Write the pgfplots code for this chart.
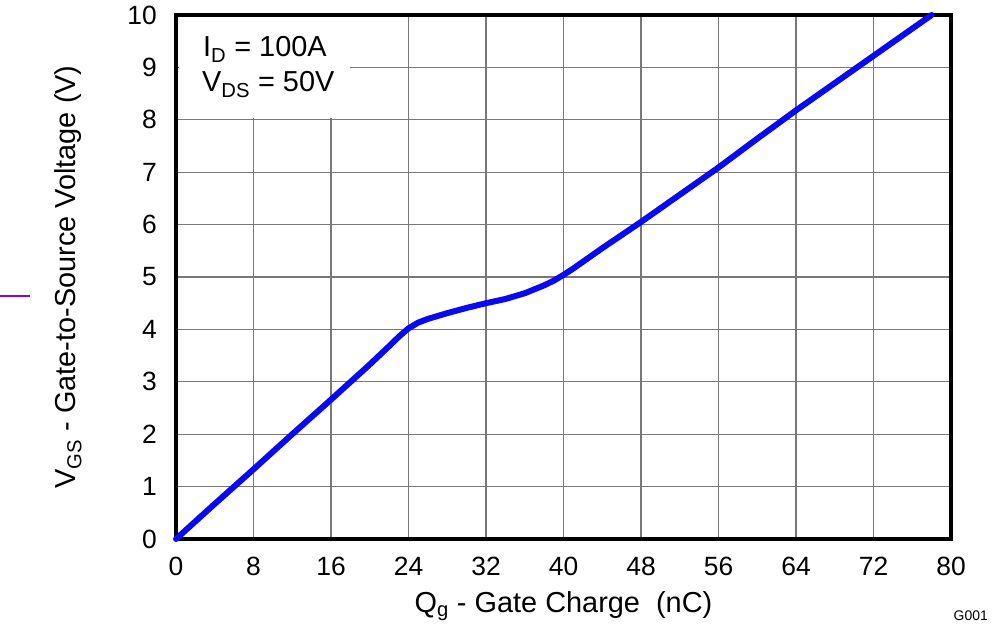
\documentclass[border=0pt]{standalone}
\usepackage{pgfplots}
\pgfplotsset{compat=1.18}
\usepackage{fontspec}
\setmainfont{Liberation Sans}
\definecolor{curveblue}{RGB}{10,10,240}
\definecolor{gridgray}{RGB}{120,120,120}
\definecolor{artpurple}{RGB}{130,0,255}
\pgfplotstableread{
q v
0 0
4 0.67
8 1.33
12 2.0
16 2.66
20 3.33
22 3.68
23 3.86
24 4.02
25 4.13
26 4.20
28 4.31
30 4.41
32 4.50
34 4.58
36 4.69
38 4.84
39 4.93
40 5.04
41 5.16
42 5.29
44 5.55
46 5.80
48 6.05
52 6.57
56 7.09
60 7.64
64 8.18
68 8.70
72 9.22
76 9.74
78 10.0
}\qgdata
\begin{document}
\begin{tikzpicture}[x=1bp,y=1bp]
\useasboundingbox (0,0) rectangle (1001,630);
\begin{axis}[
  at={(176bp,91bp)}, anchor=south west,
  width=775bp, height=524bp, scale only axis,
  xmin=0, xmax=80, ymin=0, ymax=10,
  xtick={0,8,...,80}, ytick={0,1,...,10},
  major tick length=0pt,
  grid=major,
  major grid style={gridgray, line width=1.3bp},
  axis line style={black, line width=4bp},
  /pgf/number format/assume math mode=true,
  tick label style={font=\fontsize{26.5}{30}\selectfont, inner sep=0pt},
  xticklabel style={anchor=north, yshift=-18bp},
  yticklabel style={anchor=east, xshift=-19bp},
  xlabel={Q\textsubscript{g} - Gate Charge \ (nC)},
  ylabel={V\textsubscript{GS} - Gate-to-Source Voltage (V)},
  label style={font=\fontsize{29}{34}\selectfont},
  xlabel style={at={(axis description cs:0.5,0)}, anchor=base, yshift=-74bp},
  ylabel style={at={(axis description cs:-0.139,0.5)}, anchor=center},
  clip=false,
]
\fill[white] (axis cs:0.3,8.03) rectangle (axis cs:18,9.96);
\addplot[curveblue, line width=6bp, line join=round, line cap=round] table[x=q,y=v] {\qgdata};
\end{axis}
\node[anchor=base west, inner sep=0pt, font=\fontsize{29}{34}\selectfont] at (203,573) {I\textsubscript{D} = 100A};
\node[anchor=base west, inner sep=0pt, font=\fontsize{29}{34}\selectfont] at (202,538) {V\textsubscript{DS} = 50V};
\node[anchor=base east, inner sep=0pt, font=\fontsize{14}{16}\selectfont] at (988,9) {G001};
\draw[artpurple, line width=1.5bp] (0,334) -- (30,334);
\end{tikzpicture}
\end{document}
